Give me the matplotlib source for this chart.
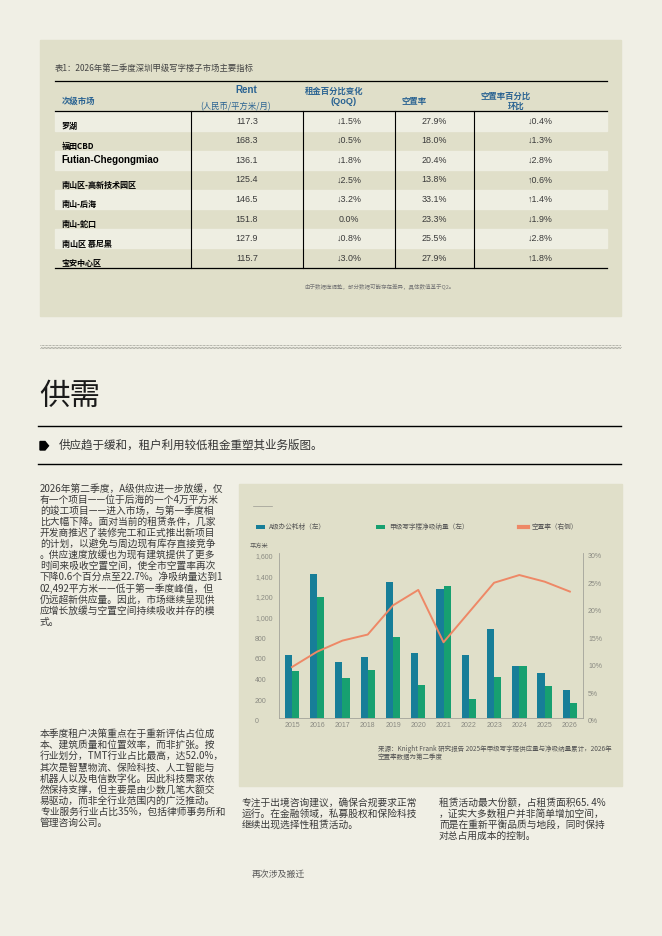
import numpy as np
import matplotlib.pyplot as plt
from matplotlib.patches import Rectangle, Polygon
from matplotlib.lines import Line2D

plt.rcParams['font.family'] = ['Noto Sans CJK SC', 'DejaVu Sans']

# ---- table data ----
submarkets = ['罗湖', '福田CBD', 'Futian-Chegongmiao', '南山区-高新技术园区',
              '南山-后海', '南山-蛇口', '南山区 慕尼黑', '宝安中心区']
rent = [117.3, 168.3, 136.1, 125.4, 146.5, 151.8, 127.9, 115.7]
rent_qoq = [-1.5, -0.5, -1.8, -2.5, -3.2, 0.0, -0.8, -3.0]
vacancy_now = [27.9, 18.0, 20.4, 13.8, 33.1, 23.3, 25.5, 27.9]
vacancy_qoq = [-0.4, -1.3, -2.8, 0.6, 1.4, -1.9, -2.8, 1.8]

# ---- chart data ----
years = [2015, 2016, 2017, 2018, 2019, 2020, 2021, 2022, 2023, 2024, 2025, 2026]
supply = [610, 1395, 545, 595, 1315, 635, 1250, 610, 865, 505, 435, 270]
absorption = [460, 1170, 392, 464, 790, 326, 1285, 183, 402, 505, 317, 144]
vacancy = [9.3, 12.1, 14.1, 15.2, 20.5, 23.3, 13.8, 19.2, 24.6, 26.0, 24.8, 23.0]

# ---- text ----
text_a = ['2026年第二季度，A级供应进一步放缓，仅',
          '有一个项目——位于后海的一个4万平方米',
          '的竣工项目——进入市场，与第一季度相',
          '比大幅下降。面对当前的租赁条件，几家',
          '开发商推迟了装修完工和正式推出新项目',
          '的计划，以避免与周边现有库存直接竞争',
          '。供应速度放缓也为现有建筑提供了更多',
          '时间来吸收空置空间，使全市空置率再次',
          '下降0.6个百分点至22.7%。净吸纳量达到1',
          '02,492平方米——低于第一季度峰值，但',
          '仍远超新供应量。因此，市场继续呈现供',
          '应增长放缓与空置空间持续吸收并存的模',
          '式。']
text_b = ['本季度租户决策重点在于重新评估占位成',
          '本、建筑质量和位置效率，而非扩张。按',
          '行业划分，TMT行业占比最高，达52.0%，',
          '其次是智慧物流、保险科技、人工智能与',
          '机器人以及电信数字化。因此科技需求依',
          '然保持支撑，但主要是由少数几笔大额交',
          '易驱动，而非全行业范围内的广泛推动。',
          '专业服务行业占比35%，包括律师事务所和',
          '管理咨询公司。']
text_c = ['专注于出境咨询建议，确保合规要求正常',
          '运行。在金融领域，私募股权和保险科技',
          '继续出现选择性租赁活动。']
text_d = ['租赁活动最大份额，占租赁面积65. 4%',
          '，证实大多数租户并非简单增加空间，',
          '而是在重新平衡品质与地段，同时保持',
          '对总占用成本的控制。']

PAGE = '#f0efe5'
PANEL = '#e0dfc9'
BAND = '#eeeee2'
BLUE = '#2a6392'
TEAL = '#177e98'
GREEN = '#17a070'
ORANGE = '#ee8866'
GREY = '#8a8a82'
BODY = '#3a3a3a'
NUM = ['Liberation Sans', 'DejaVu Sans']

fig = plt.figure(figsize=(6.62, 9.36), dpi=100, facecolor=PAGE)
page = fig.add_axes([0, 0, 1, 1])
page.set_xlim(0, 662)
page.set_ylim(936, 0)
page.axis('off')

# ---- table panel ----
page.add_patch(Rectangle((40, 40), 581, 276, color=PANEL, zorder=0))
page.text(55, 68, '表1：2026年第二季度深圳甲级写字楼子市场主要指标', fontsize=6,
          color='#444444', va='center')
x0, x1 = 55, 607
top, head, row_h = 80.7, 111.3, 19.6
bottom = head + row_h * len(submarkets)
for i in range(0, len(submarkets), 2):
    page.add_patch(Rectangle((x0, head + i * row_h), x1 - x0, row_h, color=BAND, zorder=1))
for y in (top, head, bottom):
    page.plot([x0, x1], [y, y], color='black', lw=0.9, zorder=3)
dividers = [191, 303, 395, 474]
for xd in dividers:
    page.plot([xd, xd], [head, bottom], color='black', lw=0.8, zorder=3)

page.text(61.5, 101.7, '次级市场', fontsize=6, weight='bold', color=BLUE, va='center')
page.text(246, 90, 'Rent', fontsize=7, weight='bold', color=BLUE, va='center',
          ha='center', family=NUM)
page.text(236, 106.5, '(人民币/平方米/月)', fontsize=6, color=BLUE, va='center', ha='center')
page.text(334, 91.5, '租金百分比变化', fontsize=6, weight='bold', color=BLUE, va='center',
          ha='center')
page.text(344, 102, '(QoQ)', fontsize=6.6, weight='bold', color=BLUE, va='center',
          ha='center', family=NUM)
page.text(401, 101.7, '空置率', fontsize=6, weight='bold', color=BLUE, va='center')
page.text(480, 96, '空置率百分比', fontsize=6, weight='bold', color=BLUE, va='center')
page.text(516, 106.7, '环比', fontsize=6, weight='bold', color=BLUE, va='center', ha='center')


def arrow(v):
    if v > 0:
        return '↑%.1f%%' % abs(v)
    if v < 0:
        return '↓%.1f%%' % abs(v)
    return '0.0%'


centers = [(dividers[0] + dividers[1]) / 2, (dividers[1] + dividers[2]) / 2,
           (dividers[2] + dividers[3]) / 2, (dividers[3] + x1) / 2]
for i, name in enumerate(submarkets):
    yc = head + i * row_h + row_h / 2
    if name.isascii():
        page.text(61.5, yc, name, fontsize=7, weight='bold', family=NUM, va='center',
                  color='black')
    else:
        page.text(61.5, yc + 5.3, name, fontsize=5.8, weight='bold', va='center',
                  color='black')
    cells = ['%.1f' % rent[i], arrow(rent_qoq[i]), '%.1f%%' % vacancy_now[i],
             arrow(vacancy_qoq[i])]
    for cx, s in zip(centers, cells):
        page.text(cx, yc, s, fontsize=6.4, family=NUM, color='#3a3a3a', va='center',
                  ha='center')
page.text(380, 287, '由于数据库调整，部分数据可能存在差异，具体数值基于Q2。', fontsize=4,
          color='#777777', va='center', ha='center')

# ---- section heading ----
for yy, off in ((345.2, 0), (346.6, 0.72), (348.0, 0)):
    page.plot([40, 621], [yy, yy], color='#9a9a92', lw=0.7, linestyle=(off, (0.72, 0.72)))
page.text(39, 396.5, '供需', fontsize=22, color='#1a1a1a', va='center')
page.plot([38, 621], [425.7, 425.7], color='black', lw=1.0)
page.plot([38, 621], [464.3, 464.3], color='black', lw=1.0)
page.add_patch(Polygon([(40, 441.5), (45, 441.5), (48.5, 445.8), (45, 450), (40, 450)],
                       closed=True, color='black'))
page.text(59, 445.7, '供应趋于缓和，租户利用较低租金重塑其业务版图。', fontsize=8.3,
          color='#333333', va='center')

# ---- body text ----
def block(lines, x, y0, step=11.1):
    for k, s in enumerate(lines):
        page.text(x, y0 + k * step, s, fontsize=7, color=BODY, va='center')


block(text_a, 40, 488.5)
block(text_b, 40, 734)
block(text_c, 241.5, 802.7)
block(text_d, 439, 802.7)
page.text(252, 874, '再次涉及搬迁', fontsize=6.4, color='#555555', va='center')

# ---- chart panel ----
page.add_patch(Rectangle((238.5, 484), 383.5, 302, color=PANEL, zorder=0))
page.plot([253, 272], [506, 506], color='#9a9a92', lw=0.5)
page.text(250, 545.7, '平方米', fontsize=4.5, color='#555555', va='center')
page.text(378, 749, '来源：Knight Frank 研究报告 2025年甲级写字楼供应量与净吸纳量累计，2026年',
          fontsize=4.7, color='#555555', va='center')
page.text(378, 757, '空置率数据为第二季度', fontsize=4.7, color='#555555', va='center')

ax = fig.add_axes([279.3 / 662, (936 - 718.3) / 936, (582.5 - 279.3) / 662,
                   (718.3 - 553) / 936])
ax.patch.set_alpha(0)
x = np.arange(len(years))
w = 0.285
b1 = ax.bar(x - w / 2, supply, w, color=TEAL, label='A级办公耗材（左）')
b2 = ax.bar(x + w / 2, absorption, w, color=GREEN, label='甲级写字楼净吸纳量（左）')
ax.set_xlim(-0.5, 11.5)
ax.set_ylim(0, 1600)
ax.set_yticks(range(0, 1601, 200))
ax.set_yticklabels(['{:,}'.format(v) for v in range(0, 1601, 200)], family=NUM)
ax.set_xticks(x)
ax.set_xticklabels([str(y) for y in years], family=NUM)
ax.tick_params(axis='y', length=0, pad=17.5, labelsize=5, labelcolor=GREY)
ax.tick_params(axis='x', length=0, pad=2.5, labelsize=5, labelcolor=GREY)
for lab in ax.get_yticklabels():
    lab.set_ha('left')
    lab.set_va('top')
for side in ('top', 'right'):
    ax.spines[side].set_visible(False)
for side in ('left', 'bottom'):
    ax.spines[side].set_color('#a3a39a')
    ax.spines[side].set_linewidth(0.6)

ax2 = ax.twinx()
l1, = ax2.plot(x, vacancy, color=ORANGE, lw=1.4, label='空置率（右侧）')
ax2.set_ylim(0, 30)
ax2.set_yticks(range(0, 31, 5))
ax2.set_yticklabels(['%d%%' % v for v in range(0, 31, 5)], family=NUM)
ax2.tick_params(axis='y', length=0, pad=4, labelsize=5, labelcolor=GREY)
for lab in ax2.get_yticklabels():
    lab.set_va('top')
for side in ('top', 'left', 'bottom'):
    ax2.spines[side].set_visible(False)
ax2.spines['right'].set_color('#a3a39a')
ax2.spines['right'].set_linewidth(0.6)

handles = [b1, b2, Line2D([], [], color=ORANGE, lw=3)]
leg = ax.legend(handles, [h.get_label() for h in (b1, b2, l1)], ncol=3, frameon=False,
                loc='center left', bbox_to_anchor=(256 / 662, 1 - 527 / 936),
                bbox_transform=fig.transFigure, borderaxespad=0, borderpad=0,
                fontsize=4.8, handlelength=1.3, handleheight=0.55, handletextpad=0.6,
                columnspacing=7.6)
for t in leg.get_texts():
    t.set_color('#555555')

fig.savefig('out.png', dpi=100, facecolor=PAGE)
